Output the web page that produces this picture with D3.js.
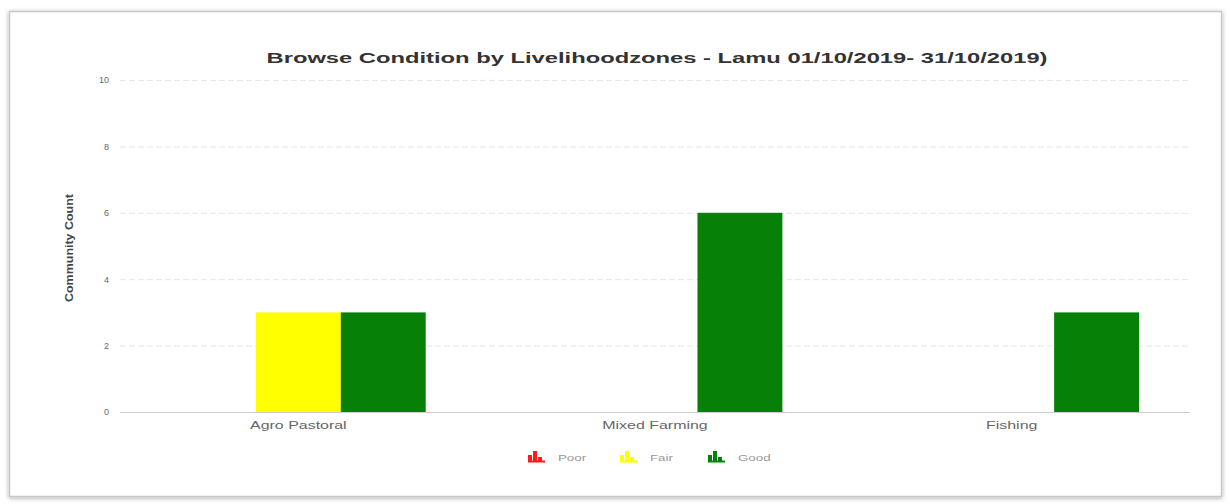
<!DOCTYPE html>
<html>
<head>
<meta charset="utf-8">
<script src="https://cdn.jsdelivr.net/npm/d3@7"></script>
<style>
  html, body { margin: 0; padding: 0; background: #fff; }
  svg { display: block; }
</style>
</head>
<body>
<svg id="chart" width="1228" height="504"></svg>
<script>
// Browse condition counts per livelihood zone
const zones = ["Agro Pastoral", "Mixed Farming", "Fishing"];
const conditions = ["Poor", "Fair", "Good"];
const poor = [0, 0, 0];
const fair = [3, 0, 0];
const good = [3, 6, 3];
const yTicks = [0, 2, 4, 6, 8, 10];
const colors = { Poor: "#ff1a1a", Fair: "#ffff00", Good: "#078007" };
const titleText = "Browse Condition by Livelihoodzones - Lamu 01/10/2019- 31/10/2019)";

const seriesValues = { Poor: poor, Fair: fair, Good: good };
const rows = zones.map((z, i) => ({ zone: z, values: conditions.map(c => ({ key: c, value: seriesValues[c][i] })) }));

const FONT = "Liberation Sans, Arial, sans-serif";
const svg = d3.select("#chart");
const W = 1228, H = 504;

// widen text glyphs horizontally by a factor
function stretch(sel, k) {
  sel.each(function () {
    const len = this.getComputedTextLength();
    d3.select(this).attr("textLength", len * k).attr("lengthAdjust", "spacingAndGlyphs");
  });
}

// card frame with soft shadow
const defs = svg.append("defs");
const f = defs.append("filter").attr("id", "shadow").attr("x", "-5%").attr("y", "-5%").attr("width", "110%").attr("height", "110%");
f.append("feDropShadow").attr("dx", 0).attr("dy", 1).attr("stdDeviation", 2).attr("flood-color", "#000").attr("flood-opacity", 0.35);
svg.append("rect").attr("x", 9.5).attr("y", 11.5).attr("width", 1212).attr("height", 485)
  .attr("fill", "#fff").attr("stroke", "#c8c8c8").attr("stroke-width", 1.5).attr("filter", "url(#shadow)");

const margin = { left: 120, right: 38, top: 80, bottom: 92 };
const x0 = d3.scaleBand().domain(zones).range([margin.left, W - margin.right]).paddingInner(0).paddingOuter(0);
const x1 = d3.scaleBand().domain(conditions).range([0, x0.bandwidth()]).paddingInner(0).paddingOuter(0.6);
const y = d3.scaleLinear().domain([0, 10]).range([H - margin.bottom, margin.top]);

// title
svg.append("text").attr("x", 657).attr("y", 63)
  .attr("text-anchor", "middle").attr("font-family", FONT)
  .attr("font-weight", "bold").attr("font-size", 14).attr("fill", "#333")
  .attr("textLength", 781).attr("lengthAdjust", "spacingAndGlyphs")
  .text(titleText);

// grid and y axis
const yAxis = d3.axisLeft(y).tickValues(yTicks).tickSize(-(W - margin.left - margin.right)).tickPadding(11);
const gy = svg.append("g").attr("transform", `translate(${margin.left},0)`).call(yAxis);
gy.select(".domain").remove();
gy.selectAll(".tick line").attr("stroke", "#e6e6e6").attr("stroke-dasharray", "6,3");
gy.selectAll(".tick").filter(d => d === 0).select("line").attr("stroke", "#ccc").attr("stroke-dasharray", null);
gy.selectAll(".tick text").attr("font-family", FONT).attr("font-size", 9).attr("fill", "#666");

// y axis title
svg.append("text").attr("transform", `translate(73,${(y(0) + y(10)) / 2 + 2}) rotate(-90)`)
  .attr("text-anchor", "middle").attr("font-family", FONT).attr("font-weight", "bold")
  .attr("font-size", 10).attr("fill", "#444")
  .attr("textLength", 108).attr("lengthAdjust", "spacingAndGlyphs")
  .text("Community Count");

// x axis labels
const xAxis = d3.axisBottom(x0).tickSize(0).tickPadding(9);
const gx = svg.append("g").attr("transform", `translate(0,${y(0)})`).call(xAxis);
gx.select(".domain").remove();
gx.selectAll(".tick text").attr("font-family", FONT).attr("font-size", 11).attr("fill", "#666")
  .call(stretch, 1.45);

// bars
const groups = svg.append("g").selectAll("g").data(rows).join("g")
  .attr("transform", d => `translate(${x0(d.zone)},0)`);
groups.selectAll("rect").data(d => d.values.filter(v => v.value > 0)).join("rect")
  .attr("x", d => x1(d.key)).attr("width", x1.bandwidth())
  .attr("y", d => y(d.value)).attr("height", d => y(0) - y(d.value))
  .attr("fill", d => colors[d.key]);

// legend
const legendX = [528, 620, 708];
const lg = svg.append("g").selectAll("g").data(conditions).join("g")
  .attr("transform", (d, i) => `translate(${legendX[i]},450)`);
lg.append("rect").attr("x", 0).attr("y", 5).attr("width", 4).attr("height", 7).attr("fill", d => colors[d]);
lg.append("rect").attr("x", 5).attr("y", 1).attr("width", 4).attr("height", 11).attr("fill", d => colors[d]);
lg.append("rect").attr("x", 10).attr("y", 7).attr("width", 4).attr("height", 5).attr("fill", d => colors[d]);
lg.append("rect").attr("x", 0).attr("y", 10.5).attr("width", 17).attr("height", 2).attr("fill", d => colors[d]);
lg.append("text").attr("x", 30).attr("y", 11).attr("font-family", FONT)
  .attr("font-size", 9.5).attr("fill", "#999").text(d => d)
  .call(stretch, 1.4);
</script>
</body>
</html>
